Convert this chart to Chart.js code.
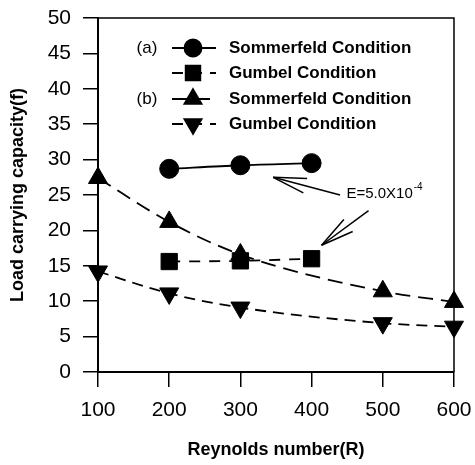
<!DOCTYPE html>
<html>
<head>
<meta charset="utf-8">
<script src="https://cdn.jsdelivr.net/npm/chart.js@4.4.1/dist/chart.umd.min.js"></script>
<style>
html,body{margin:0;padding:0;background:#fff;}
#wrap{width:475px;height:465px;}
</style>
</head>
<body>
<div id="wrap"><canvas id="c" width="475" height="465"></canvas></div>
<script>
// ---- data ----
const reynoldsA = [200, 300, 400];
const sommerfeldA = [28.7, 29.2, 29.5];
const gumbelA = [15.6, 15.7, 16.0];
const reynoldsB = [100, 200, 300, 500, 600];
const sommerfeldB = [27.4, 21.2, 16.6, 11.4, 9.9];
const gumbelB = [14.2, 11.1, 9.1, 6.9, 6.4];
const xTicks = [100, 200, 300, 400, 500, 600];
const yTicks = [0, 5, 10, 15, 20, 25, 30, 35, 40, 45, 50];
const seriesLabels = ['Sommerfeld Condition', 'Gumbel Condition', 'Sommerfeld Condition', 'Gumbel Condition'];
const groupLabels = ['(a)', '', '(b)', ''];
const annotationText = 'E=5.0X10';
const annotationSup = '-4';

const toPts = (xs, ys) => xs.map((x, i) => ({x, y: ys[i]}));

const FONT = '"Liberation Sans", Arial, sans-serif';

const datasets = [
  {label: seriesLabels[0], data: toPts(reynoldsA, sommerfeldA), pointStyle: 'circle', pointRadius: 9.5, borderDash: []},
  {label: seriesLabels[1], data: toPts(reynoldsA, gumbelA), pointStyle: 'rect', pointRadius: 11.5, borderDash: [11, 9]},
  {label: seriesLabels[2], data: toPts(reynoldsB, sommerfeldB), pointStyle: 'triangle', pointRadius: 11, borderDash: [15, 8]},
  {label: seriesLabels[3], data: toPts(reynoldsB, gumbelB), pointStyle: 'triangle', pointRotation: 180, pointRadius: 11, borderDash: [11, 7]}
].map(d => Object.assign({
  borderColor: '#000', backgroundColor: '#000', pointBackgroundColor: '#000', pointBorderColor: '#000',
  borderWidth: 1.8, pointBorderWidth: 1, pointHoverRadius: d.pointRadius, clip: false, fill: false
}, d));

function drawMarker(ctx, style, r, rot, x, y) {
  if (Chart.helpers && Chart.helpers.drawPoint) {
    Chart.helpers.drawPoint(ctx, {pointStyle: style, radius: r, rotation: rot || 0, borderWidth: 1}, x, y);
    ctx.fill();
  }
}

const frameAndLegend = {
  id: 'frameAndLegend',
  afterDatasetsDraw(chart) {
    const {ctx, chartArea: a, scales} = chart;
    ctx.save();
    // frame top/right
    ctx.strokeStyle = '#000';
    ctx.lineWidth = 1.5;
    ctx.beginPath();
    ctx.moveTo(a.left, a.top); ctx.lineTo(a.right, a.top); ctx.lineTo(a.right, a.bottom);
    ctx.stroke();

    // legend
    const rows = [48, 73, 99, 124];
    const lx0 = 172, lx1 = 216, mx = 193, tx = 229;
    chart.data.datasets.forEach((ds, i) => {
      const y = rows[i];
      ctx.strokeStyle = '#000'; ctx.fillStyle = '#000'; ctx.lineWidth = 1.8;
      ctx.setLineDash(ds.borderDash.length ? [ds.borderDash[0], 8] : []);
      ctx.beginPath(); ctx.moveTo(lx0, y); ctx.lineTo(lx1, y); ctx.stroke();
      ctx.setLineDash([]);
      drawMarker(ctx, ds.pointStyle, ds.pointRadius * 0.9, ds.pointRotation, mx, y);
      ctx.fillStyle = '#000';
      ctx.textBaseline = 'middle';
      ctx.font = 'bold 17px ' + FONT;
      ctx.textAlign = 'left';
      ctx.fillText(ds.label, tx, y);
      if (groupLabels[i]) {
        ctx.font = '17px ' + FONT;
        ctx.textAlign = 'center';
        ctx.fillText(groupLabels[i], 147, y);
      }
    });

    // annotation with arrows (in data coordinates)
    const X = v => scales.x.getPixelForValue(v), Y = v => scales.y.getPixelForValue(v);
    function arrow(x0, y0, x1, y1) {
      const px0 = X(x0), py0 = Y(y0), px1 = X(x1), py1 = Y(y1);
      ctx.lineWidth = 1.5; ctx.strokeStyle = '#000';
      ctx.beginPath(); ctx.moveTo(px0, py0); ctx.lineTo(px1, py1); ctx.stroke();
      const ang = Math.atan2(py1 - py0, px1 - px0);
      const L = 34;
      [0.22, -0.22].forEach(d => {
        ctx.beginPath();
        ctx.moveTo(px1, py1);
        ctx.lineTo(px1 - L * Math.cos(ang + d), py1 - L * Math.sin(ang + d));
        ctx.stroke();
      });
    }
    arrow(440, 25.0, 346, 27.5);
    arrow(480, 22.8, 414, 17.9);
    ctx.fillStyle = '#000';
    ctx.font = '15px ' + FONT;
    ctx.textAlign = 'left'; ctx.textBaseline = 'middle';
    const tx0 = X(449), ty0 = Y(25.1);
    ctx.fillText(annotationText, tx0, ty0);
    const w = ctx.measureText(annotationText).width;
    ctx.font = '10px ' + FONT;
    ctx.fillText(annotationSup, tx0 + w + 1, ty0 - 7);
    ctx.restore();
  }
};

new Chart(document.getElementById('c'), {
  type: 'line',
  data: {datasets},
  options: {
    responsive: false,
    animation: false,
    devicePixelRatio: 1,
    layout: {padding: {top: 18, right: 21, left: 0, bottom: 0}},
    plugins: {legend: {display: false}, tooltip: {enabled: false}},
    elements: {line: {cubicInterpolationMode: 'monotone'}},
    scales: {
      x: {
        type: 'linear', min: 100, max: 600,
        afterFit: s => { s.height = 93; s.paddingLeft = 0; s.paddingRight = 0; },
        afterBuildTicks: s => { s.ticks = xTicks.map(v => ({value: v})); },
        grid: {drawOnChartArea: false, drawTicks: true, tickLength: 15, color: '#000', lineWidth: 1.5},
        border: {display: true, color: '#000', width: 2},
        ticks: {color: '#000', font: {family: FONT, size: 21}, padding: 11, maxRotation: 0},
        title: {display: true, text: 'Reynolds number(R)', color: '#000', font: {family: FONT, size: 18, weight: 'bold'}, padding: {top: 2, bottom: 4}}
      },
      y: {
        type: 'linear', min: 0, max: 50,
        afterFit: s => { s.width = 98; s.paddingTop = 0; s.paddingBottom = 0; },
        afterBuildTicks: s => { s.ticks = yTicks.map(v => ({value: v})); },
        grid: {drawOnChartArea: false, drawTicks: true, tickLength: 15, color: '#000', lineWidth: 1.5},
        border: {display: true, color: '#000', width: 2},
        ticks: {color: '#000', font: {family: FONT, size: 21}, padding: 12},
        title: {display: true, text: 'Load carrying capacity(f)', color: '#000', font: {family: FONT, size: 18, weight: 'bold'}, padding: {top: 7, bottom: 4}}
      }
    }
  },
  plugins: [frameAndLegend]
});
</script>
</body>
</html>
